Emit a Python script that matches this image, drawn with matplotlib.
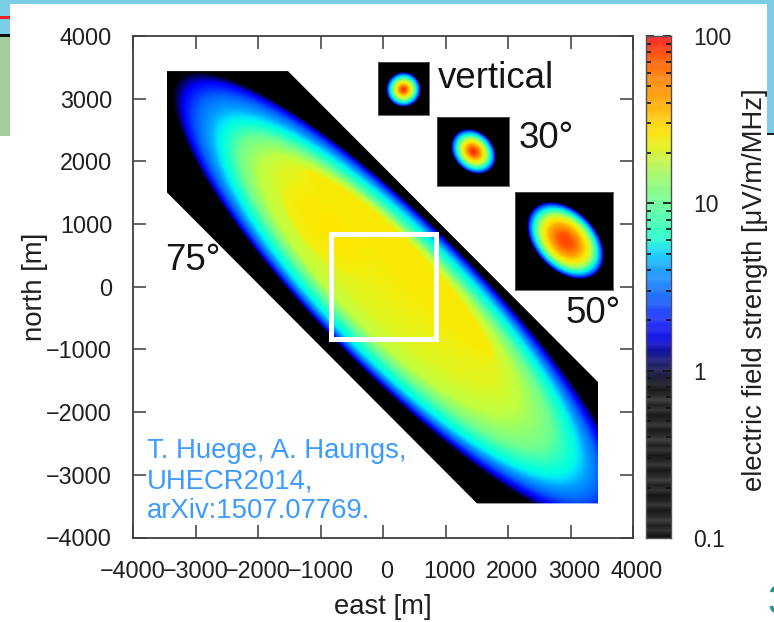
import numpy as np
import matplotlib
matplotlib.use("Agg")
import matplotlib.pyplot as plt
from matplotlib.colors import LinearSegmentedColormap, to_rgb
from matplotlib.patches import Rectangle, Polygon
from matplotlib.transforms import ScaledTranslation

plt.rcParams['font.family'] = ['Liberation Sans', 'DejaVu Sans']

W, H = 774, 622
TICK_COL = '#3a3a3a'

# ---- main 75 deg footprint: nested contours ----
# metres along the long axis (start, end), half width across it, offset across it
contour_log = [0.0, 0.18, 0.40, 0.60, 0.75, 1.00, 1.20, 1.30, 1.40]
contour_start_m = [-4592, -4416, -4128, -3808, -3600, -3200, -2752, -2400, -2240]
contour_end_m = [5360, 5040, 4720, 4400, 4192, 3600, 2848, 2320, 2000]
contour_half_m = [1200, 1168, 1120, 1072, 1024, 864, 768, 600, 300]
contour_off_m = [48, 48, 48, 48, 48, 64, 96, 200, 520]
# brighter patch near the upper left of the long axis
patch_log = 1.45
patch_start_m, patch_end_m, patch_half_m, patch_off_m = -2240, -160, 480, 96

clip_x = [-3456, -1520, 3440, 3440, 1504, -3456]
clip_y = [3440, 3440, -1520, -3456, -3456, 1504]
square_half = 840

# ---- small footprints: rect px (l, t, r, b), centre px, semi axes px, angle, radial profile ----
inset_rho = [0, 0.2, 0.4, 0.55, 0.7, 0.85, 0.95, 1.0, 1.05]
vertical_log = [1.97, 1.78, 1.42, 1.15, 0.88, 0.58, 0.28, 0.0, -0.2]
thirty_log = [1.97, 1.82, 1.50, 1.22, 0.92, 0.60, 0.28, 0.0, -0.2]
fifty_log = [1.90, 1.84, 1.64, 1.42, 1.10, 0.72, 0.32, 0.0, -0.2]
inset_rects = [(378, 62, 429, 115), (437, 117, 509, 186), (515, 192, 613, 290)]
inset_centres = [(403.5, 89.5), (473.5, 151.5), (565.5, 240.5)]
inset_semi = [(17, 17), (24.5, 19.5), (45, 30)]
inset_angle = [0, -45, -45]

# ---- colour scale ----
field_log = [-0.08, 0.0, 0.18, 0.4, 0.6, 0.7, 0.78, 1.0, 1.2, 1.35, 1.45, 1.6, 1.75, 1.9, 2.0]
field_cols = ['#000000', '#000040', '#0000ff', '#0060ff', '#00a8ff', '#00e0ff', '#00ffe0', '#70ff90',
              '#c0ff40', '#f0f010', '#ffe600', '#ffb000', '#ff8000', '#ff4000', '#ff1010']
bar_log = [-1.0, -0.1, 0.0, 0.1, 0.18, 0.3, 0.4, 0.6, 0.7, 0.8, 1.0, 1.2, 1.35, 1.45, 1.6, 1.75, 1.9, 2.0]
bar_cols = ['#161616', '#1a1a1a', '#202058', '#101090', '#1414e0', '#2030ff', '#2060ff', '#20a0ff', '#20d0ff',
            '#30ffcc', '#70ffa0', '#b0f868', '#e8f020', '#ffe010', '#ffb010', '#ff8a10', '#ff5a10', '#ff2020']
bar_stripes = [0.0, 0.07, 0.02, 0.10, 0.04, 0.0, 0.08, 0.03]
bar_ticks = [0.1, 1, 10, 100]
bar_tick_labels = ['0.1', '1', '10', '100']

x_ticks = [-4000, -3000, -2000, -1000, 0, 1000, 2000, 3000, 4000]
y_ticks = [-4000, -3000, -2000, -1000, 0, 1000, 2000, 3000, 4000]


def fig_rect(l, t, r, b):
    return [l / W, 1 - b / H, (r - l) / W, (b - t) / H]


def make_cmap(stops, cols, lo, hi):
    pts = [((s - lo) / (hi - lo), c) for s, c in zip(stops, cols)]
    if pts[0][0] > 0:
        pts = [(0.0, cols[0])] + pts
    if pts[-1][0] < 1:
        pts = pts + [(1.0, cols[-1])]
    return LinearSegmentedColormap.from_list('m', pts, N=1024)


def ellipse_rho(U, V, start, end, half, off):
    c = 0.5 * (start + end)
    a = 0.5 * (end - start)
    return np.sqrt(((U - c) / a) ** 2 + ((V - off) / half) ** 2)


field_cmap = make_cmap(field_log, field_cols, -1, 2)
fig = plt.figure(figsize=(W / 100, H / 100), dpi=100, facecolor='white')


# background slide pieces
def bg(l, t, r, b, col, z=0):
    fig.add_artist(Rectangle((l / W, 1 - b / H), (r - l) / W, (b - t) / H, transform=fig.transFigure,
                             facecolor=col, edgecolor='none', zorder=z))


bg(0, 0, W, 4, '#7ccde6')
bg(0, 0, 10, 34, '#7ccde6')
bg(0, 16, 10, 18.5, '#ee2020')
bg(0, 33.5, 10, 37, '#101010')
bg(0, 37, 10, 136, '#a3cc9c')
bg(767, 0, W, 134, '#7ccde6')
bg(767, 133.5, W, 135, '#202020')
fig.text(767 / W, 1 - 603 / H, '3', fontsize=30, color='#1a9c8c', ha='left', va='center')

# main axes
ax = fig.add_axes(fig_rect(133, 36, 633, 537.5))
ax.set_xlim(-4000, 4000)
ax.set_ylim(-4000, 4000)
xs = np.linspace(-3500, 3500, 800)
X, Y = np.meshgrid(xs, xs)
U = (X - Y) / np.sqrt(2)
V = (X + Y) / np.sqrt(2)

Z = np.full(X.shape, -1.0)
rhos = [ellipse_rho(U, V, s, e, h, o) for s, e, h, o in
        zip(contour_start_m, contour_end_m, contour_half_m, contour_off_m)]
inside_all = np.ones(X.shape, bool)
for i in range(len(rhos)):
    r_in = rhos[i]
    if i == 0:
        band = r_in > 1
        Z[band] = contour_log[0] - np.clip((r_in[band] - 1) * 6, 0, 1)
    inside_all = inside_all & (r_in <= 1)
    if i + 1 < len(rhos):
        r_out = rhos[i + 1]
        band = inside_all & (r_out > 1)
        t = (1 - r_in[band]) / np.maximum(r_out[band] - r_in[band], 1e-6)
        Z[band] = contour_log[i] + (contour_log[i + 1] - contour_log[i]) * np.clip(t, 0, 1)
    else:
        Z[inside_all] = contour_log[i] + 0.03 * (1 - r_in[inside_all])
r_patch = ellipse_rho(U, V, patch_start_m, patch_end_m, patch_half_m, patch_off_m)
in_patch = r_patch < 1
Z[in_patch] = np.maximum(Z[in_patch], patch_log - 0.12 * r_patch[in_patch] ** 2)

im = ax.imshow(Z, extent=(-3500, 3500, -3500, 3500), origin='lower', cmap=field_cmap, vmin=-1, vmax=2,
               interpolation='bilinear', aspect='auto', zorder=1)
clip = Polygon(np.column_stack([clip_x, clip_y]), closed=True, transform=ax.transData, facecolor='none', edgecolor='none')
ax.add_patch(clip)
im.set_clip_path(clip)
ax.add_patch(Rectangle((-square_half, -square_half), 2 * square_half, 2 * square_half, fill=False,
                       edgecolor='white', linewidth=3.6, zorder=3, joinstyle='miter'))
ax.set_xticks(x_ticks)
ax.set_yticks(y_ticks)
ax.tick_params(axis='both', which='major', direction='in', length=9.5, width=1.1, color=TICK_COL,
               top=True, right=True, labelsize=16.8, labelcolor='#202020')
ax.tick_params(axis='x', pad=16)
ax.tick_params(axis='y', pad=15)
for value, lab in zip(x_ticks, ax.get_xticklabels()):
    if value >= 0:
        lab.set_transform(lab.get_transform() + ScaledTranslation(4 / 100, 0, fig.dpi_scale_trans))
for s in ax.spines.values():
    s.set_linewidth(1.3)
    s.set_color('#404040')
ax.patch.set_alpha(0)
ax.set_zorder(3)

fig.text(383 / W, 1 - 607 / H, 'east [m]', fontsize=19.8, color='#202020', ha='center', va='center')
fig.text(35 / W, 1 - 287 / H, 'north [m]', fontsize=19.8, color='#202020', ha='center', va='center', rotation=90)
fig.text(755 / W, 1 - 290 / H, 'electric field strength [μV/m/MHz]', fontsize=19.7, color='#202020',
         ha='center', va='center', rotation=90, zorder=6)

# annotation text
label_font = 26.4
fig.text(438 / W, 1 - 78 / H, 'vertical', fontsize=label_font, color='#151515', ha='left', va='center', zorder=6)
fig.text(519 / W, 1 - 138 / H, '30°', fontsize=label_font, color='#151515', ha='left', va='center', zorder=6)
fig.text(566 / W, 1 - 314 / H, '50°', fontsize=label_font, color='#151515', ha='left', va='center', zorder=6)
fig.text(165 / W, 1 - 260 / H, '75°', fontsize=label_font, color='#151515', ha='left', va='center', zorder=6)
for line, yy in zip(['T. Huege, A. Haungs,', 'UHECR2014,', 'arXiv:1507.07769.'], [450.5, 481, 511]):
    fig.text(147 / W, 1 - yy / H, line, fontsize=19.8, color='#3d9bff', ha='left', va='center', zorder=6)

# small footprints
for rect, c, semi, ang, prof in zip(inset_rects, inset_centres, inset_semi, inset_angle,
                                    [vertical_log, thirty_log, fifty_log]):
    l, t, r, b = rect
    a = fig.add_axes(fig_rect(l, t, r, b), zorder=5)
    px = np.linspace(l, r, 300)
    py = np.linspace(t, b, 300)
    PX, PY = np.meshgrid(px, py)
    th = np.deg2rad(ang)
    dx, dy = PX - c[0], -(PY - c[1])
    u = dx * np.cos(th) + dy * np.sin(th)
    v = -dx * np.sin(th) + dy * np.cos(th)
    rr = np.sqrt((u / semi[0]) ** 2 + (v / semi[1]) ** 2)
    a.imshow(np.interp(rr, inset_rho, prof), cmap=field_cmap, vmin=-1, vmax=2, aspect='auto',
             interpolation='bilinear', origin='upper')
    a.set_xticks([])
    a.set_yticks([])
    for s in a.spines.values():
        s.set_linewidth(0.6)
        s.set_color('#555555')

# colour bar
cax = fig.add_axes(fig_rect(646, 36, 671, 538))
levels = np.linspace(-1, 2, 100)
base = np.array([[np.interp(levels, bar_log, [to_rgb(k)[i] for k in bar_cols])] for i in range(3)])[:, 0, :].T
st = np.array([bar_stripes[i % len(bar_stripes)] for i in range(len(levels))])
mix = base + (1 - base) * st[:, None]
dark = levels < -0.1
mix[dark] = base[dark] + st[dark, None] * 1.6
img = np.clip(mix, 0, 1)[::-1][:, None, :]
cax.imshow(img, extent=(0, 1, -1, 2), aspect='auto', interpolation='bilinear', zorder=1)
cax.set_xlim(0, 1)
cax.set_ylim(-1, 2)
cax.set_xticks([])
cax.set_yticks(np.log10(bar_ticks))
cax.set_yticklabels(bar_tick_labels)
minor = [np.log10(m * d) for d in [0.1, 1, 10] for m in range(2, 10)]
cax.set_yticks(minor, minor=True)
cax.tick_params(axis='y', which='major', direction='in', length=5.5, width=1.2, color='#101010',
                left=True, right=True, labelleft=False, labelright=True, labelsize=16.5, pad=16,
                labelcolor='#202020')
cax.tick_params(axis='y', which='minor', direction='in', length=3.5, width=1.2, color='#101010',
                left=True, right=True)
for lab in cax.get_yticklabels():
    lab.set_ha('left')
for s in cax.spines.values():
    s.set_linewidth(1.0)
    s.set_color('#505050')
cax.set_zorder(3)

fig.savefig('out.png', dpi=100)
